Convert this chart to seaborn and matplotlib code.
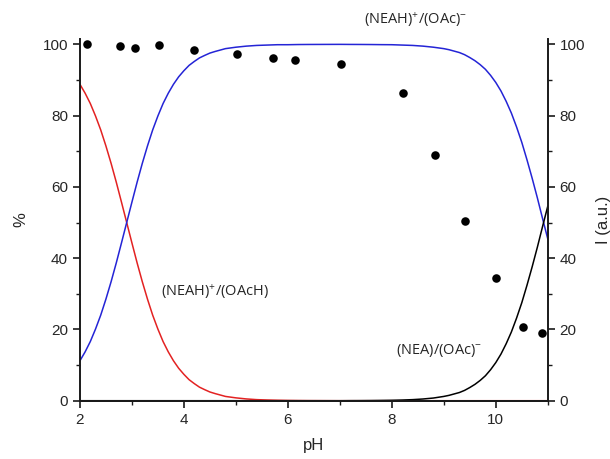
import numpy as np
import pandas as pd
import matplotlib
matplotlib.use("Agg")
import matplotlib.pyplot as plt
import seaborn as sns
from matplotlib.ticker import MultipleLocator

# ------------------------------------------------------------
# Datos
# ------------------------------------------------------------

ph_curva = [2.0, 2.1, 2.2, 2.3, 2.4, 2.5, 2.6, 2.7, 2.8, 2.9,
            3.0, 3.1, 3.2, 3.3, 3.4, 3.5, 3.6, 3.7, 3.8, 3.9,
            4.0, 4.1, 4.2, 4.3, 4.4, 4.5, 4.6,
            4.8, 5.0, 5.2, 5.4, 5.6, 5.8, 6.0, 6.2, 6.4, 6.6, 6.8,
            7.0, 7.2, 7.4, 7.6, 7.8, 8.0, 8.2, 8.4, 8.6, 8.8,
            9.0, 9.1, 9.2, 9.3, 9.4, 9.5, 9.6, 9.7, 9.8, 9.9,
            10.0, 10.1, 10.2, 10.3, 10.4, 10.5, 10.6, 10.7, 10.8, 10.9, 11.0]

# (NEAH)+/(OAcH)
rojo = [88.8, 86.3, 83.4, 79.9, 76.0, 71.5, 66.6, 61.3, 55.7, 50.0,
        44.3, 38.7, 33.4, 28.5, 24.0, 20.1, 16.6, 13.7, 11.2, 9.1,
        7.4, 5.9, 4.8, 3.8, 3.1, 2.45, 2.0,
        1.2, 0.8, 0.5, 0.3, 0.2, 0.13, 0.08, 0.05, 0.03, 0.02, 0.01,
        0.0, 0.0, 0.0, 0.0, 0.0, 0.0, 0.0, 0.0, 0.0, 0.0,
        0.0, 0.0, 0.0, 0.0, 0.0, 0.0, 0.0, 0.0, 0.0, 0.0,
        0.0, 0.0, 0.0, 0.0, 0.0, 0.0, 0.0, 0.0, 0.0, 0.0, 0.0]

# (NEAH)+/(OAc)-
azul = [11.2, 13.7, 16.6, 20.1, 24.0, 28.5, 33.4, 38.7, 44.3, 50.0,
        55.7, 61.3, 66.6, 71.5, 76.0, 79.9, 83.4, 86.3, 88.8, 90.9,
        92.6, 94.1, 95.2, 96.2, 96.9, 97.55, 98.0,
        98.8, 99.2, 99.5, 99.7, 99.8, 99.9, 99.9, 99.95, 99.97, 99.98, 99.99,
        100.0, 99.98, 99.97, 99.95, 99.92, 99.9, 99.8, 99.7, 99.5, 99.2,
        98.8, 98.5, 98.1, 97.7, 97.1, 96.3, 95.4, 94.3, 93.0, 91.3,
        89.3, 86.9, 84.0, 80.7, 76.8, 72.5, 67.6, 62.4, 56.9, 51.1, 45.4]

# (NEA)/(OAc)-
negro = [0.0, 0.0, 0.0, 0.0, 0.0, 0.0, 0.0, 0.0, 0.0, 0.0,
         0.0, 0.0, 0.0, 0.0, 0.0, 0.0, 0.0, 0.0, 0.0, 0.0,
         0.0, 0.0, 0.0, 0.0, 0.0, 0.0, 0.0,
         0.0, 0.0, 0.0, 0.0, 0.0, 0.0, 0.0, 0.0, 0.0, 0.0, 0.0,
         0.0, 0.02, 0.03, 0.05, 0.08, 0.12, 0.19, 0.3, 0.48, 0.75,
         1.2, 1.5, 1.9, 2.3, 2.9, 3.7, 4.6, 5.7, 7.0, 8.7,
         10.7, 13.1, 16.0, 19.3, 23.2, 27.5, 32.4, 37.6, 43.1, 48.9, 54.6]

# Intensidad medida (eje derecho)
ph_puntos = [2.13, 2.77, 3.06, 3.53, 4.20, 5.03, 5.71, 6.13, 7.02,
             8.22, 8.83, 9.40, 10.00, 10.53, 10.89]
intensidad = [100.0, 99.5, 99.0, 99.7, 98.4, 97.4, 96.3, 95.6, 94.5,
              86.4, 68.9, 50.4, 34.4, 20.8, 19.1]

curvas = pd.DataFrame({"pH": ph_curva, "rojo": rojo, "azul": azul, "negro": negro})
puntos = pd.DataFrame({"pH": ph_puntos, "I": intensidad})

# ------------------------------------------------------------
# Grafico
# ------------------------------------------------------------

sns.set_style("ticks")
plt.rcParams["font.family"] = ["Liberation Sans", "DejaVu Sans"]
plt.rcParams["mathtext.fontset"] = "custom"
plt.rcParams["mathtext.rm"] = "Open Sans"
plt.rcParams["mathtext.it"] = "Open Sans:italic"

fig = plt.figure(figsize=(6.1, 4.59), dpi=100)
ax = fig.add_axes([0.131, 0.127, 0.767, 0.788])

sns.lineplot(data=curvas, x="pH", y="rojo", color="#e32222", linewidth=1.1, ax=ax)
sns.lineplot(data=curvas, x="pH", y="azul", color="#2424d6", linewidth=1.1, ax=ax)
sns.lineplot(data=curvas, x="pH", y="negro", color="black", linewidth=1.1, ax=ax)

ax2 = ax.twinx()
sns.scatterplot(data=puntos, x="pH", y="I", color="black", s=38,
                edgecolor="black", linewidth=0, ax=ax2)

for a in (ax, ax2):
    a.set_xlim(2, 11)
    a.set_ylim(0, 101.5)
    a.yaxis.set_major_locator(MultipleLocator(20))
    a.yaxis.set_minor_locator(MultipleLocator(10))
    a.spines["top"].set_visible(False)
    for s in a.spines.values():
        s.set_linewidth(1.4)
        s.set_color("#1a1a1a")
    a.tick_params(which="major", length=5, width=1.2, labelsize=11, color="#1a1a1a")
    a.tick_params(which="minor", length=3, width=1.0, color="#1a1a1a")

ax.xaxis.set_major_locator(MultipleLocator(2))
ax.xaxis.set_minor_locator(MultipleLocator(1))
ax2.spines["left"].set_visible(False)
ax.spines["right"].set_visible(False)

ax.set_xlabel("pH", fontsize=12, labelpad=8)
ax.set_ylabel("%", fontsize=12, labelpad=10)
ax2.set_ylabel("I (a.u.)", fontsize=12, labelpad=8)

etiqueta = dict(fontsize=10.5, family=["Open Sans", "DejaVu Sans"], ha="center", va="center")
ax.text(8.45, 107, r"(NEAH)$^{+}$/(OAc)$^{-}$", clip_on=False, **etiqueta)
ax.text(4.6, 30.6, r"(NEAH)$^{+}$/(OAcH)", **etiqueta)
ax.text(8.9, 14.0, r"(NEA)/(OAc)$^{-}$", **etiqueta)

fig.savefig("out.png", dpi=100)
